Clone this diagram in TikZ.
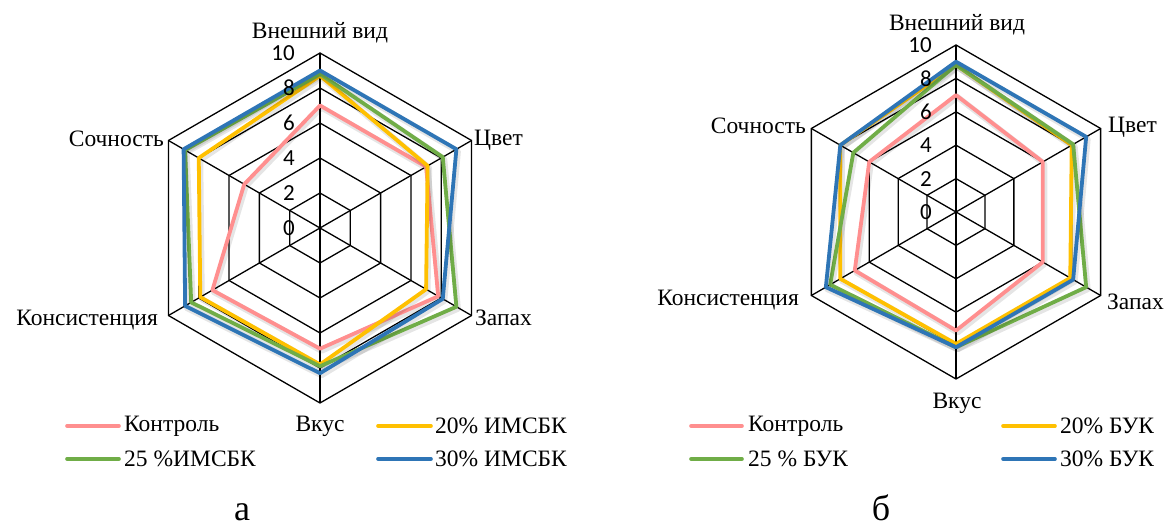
\documentclass[tikz,border=0pt]{standalone}
\usepackage{fontspec}
\setmainfont{Liberation Serif}
\newfontfamily\tickfont{Carlito}
\usepackage{xcolor}
\usetikzlibrary{positioning}
\definecolor{ControlPink}{HTML}{FF8F8F}
\definecolor{ImsbkYellow}{HTML}{FFC000}
\definecolor{ImsbkGreen}{HTML}{70AD47}
\definecolor{ImsbkBlue}{HTML}{2E75B6}

\tikzset{
  gridline/.style={black, line width=1.3pt, line join=miter},
  series/.style={draw=#1, line width=3.8pt, line join=round},
  seriesshadow/.style={draw=black, opacity=0.10, line width=6pt, line join=round},
  axislabel/.style={font=\fontsize{23.5}{26}\selectfont, inner sep=0pt},
  ticklabel/.style={font=\tickfont\fontsize{23}{26}\selectfont, inner sep=0pt, anchor=east},
  keyline/.style={draw=#1, line width=3.6pt, line cap=round},
  caption/.style={font=\fontsize{36}{40}\selectfont, inner sep=0pt, anchor=base},
}

% one radar series: colour, then six scores clockwise from the top
\newcommand{\radarseries}[7]{%
  \draw[seriesshadow, shift={(1.5,-2)}] (90:#2*\unitr) -- (30:#3*\unitr) -- (-30:#4*\unitr)
    -- (-90:#5*\unitr) -- (-150:#6*\unitr) -- (150:#7*\unitr) -- cycle;
  \draw[series=#1] (90:#2*\unitr) -- (30:#3*\unitr) -- (-30:#4*\unitr)
    -- (-90:#5*\unitr) -- (-150:#6*\unitr) -- (150:#7*\unitr) -- cycle;}

% hexagonal grid with spokes
\newcommand{\radargrid}{%
  \foreach \r in {2,4,...,10}
    \draw[gridline] (90:\r*\unitr) -- (30:\r*\unitr) -- (-30:\r*\unitr)
      -- (-90:\r*\unitr) -- (-150:\r*\unitr) -- (150:\r*\unitr) -- cycle;
  \foreach \a in {90,30,-30,-90,-150,150}
    \draw[gridline] (0,0) -- (\a:10*\unitr);}

\begin{document}
\begin{tikzpicture}[x=1pt,y=1pt]
    \useasboundingbox (0,0) rectangle (1167,527);

    % chart a
    \begin{scope}[shift={(320,299)}]
      \def\unitr{17.5}
      \radargrid
      \radarseries{ControlPink}{7}{7}{7.8}{6.9}{7.1}{5}
      \radarseries{ImsbkYellow}{8.7}{7.1}{7}{7.8}{7.9}{8}
      \radarseries{ImsbkGreen}{8.8}{8.1}{9}{7.9}{8.5}{8.9}
      \radarseries{ImsbkBlue}{9}{9}{8.1}{8.3}{8.9}{9}
      \foreach \r in {0,2,...,10}
        \node[ticklabel] (tickA\r) at (-25,\r*\unitr) {\r};
      \node[axislabel] (lookA) at (0,195) {Внешний вид};
      \node[axislabel, anchor=west] (colourA) at (154,88) {Цвет};
      \node[axislabel, anchor=west] (smellA) at (155,-90) {Запах};
      \node[axislabel] (tasteA) at (0,-198) {Вкус};
      \node[axislabel, anchor=east] (textureA) at (-162,-92) {Консистенция};
      \node[axislabel, anchor=east] (juiceA) at (-156,89) {Сочность};
    \end{scope}

    % legend a
    \node[axislabel, anchor=west] (keyA1) at (124,101) {Контроль};
    \node[axislabel, anchor=west] (keyA2) at (435,101) {20\% ИМСБК};
    \node[axislabel, anchor=west] (keyA3) at (124,68) {25 \%ИМСБК};
    \node[axislabel, anchor=west] (keyA4) at (435,68) {30\% ИМСБК};
    \draw[keyline=ControlPink] (67,101) -- (119,101);
    \draw[keyline=ImsbkYellow] (378,101) -- (431,101);
    \draw[keyline=ImsbkGreen] (67,68) -- (119,68);
    \draw[keyline=ImsbkBlue] (378,68) -- (431,68);
    \node[caption] (capA) at (242,6) {а};

    % chart b
    \begin{scope}[shift={(956,315)}]
      \def\unitr{16.7}
      \radargrid
      \radarseries{ControlPink}{7}{6}{6}{7.1}{7}{6}
      \radarseries{ImsbkYellow}{8.8}{8}{7.9}{7.9}{8}{8}
      \radarseries{ImsbkGreen}{8.8}{8.1}{9}{8.1}{8.7}{7.1}
      \radarseries{ImsbkBlue}{9}{9}{8.1}{8.1}{9}{8}
      \foreach \r in {0,2,...,10}
        \node[ticklabel] (tickB\r) at (-24,\r*\unitr) {\r};
      \node[axislabel] (lookB) at (1,187) {Внешний вид};
      \node[axislabel, anchor=west] (colourB) at (152,85) {Цвет};
      \node[axislabel, anchor=west] (smellB) at (151,-90) {Запах};
      \node[axislabel] (tasteB) at (1,-191) {Вкус};
      \node[axislabel, anchor=east] (textureB) at (-157,-88) {Консистенция};
      \node[axislabel, anchor=east] (juiceB) at (-150,86) {Сочность};
    \end{scope}

    % legend b
    \node[axislabel, anchor=west] (keyB1) at (748,101) {Контроль};
    \node[axislabel, anchor=west] (keyB2) at (1060,101) {20\% БУК};
    \node[axislabel, anchor=west] (keyB3) at (748,68) {25 \% БУК};
    \node[axislabel, anchor=west] (keyB4) at (1060,68) {30\% БУК};
    \draw[keyline=ControlPink] (691,101) -- (742,101);
    \draw[keyline=ImsbkYellow] (1003,101) -- (1055,101);
    \draw[keyline=ImsbkGreen] (691,68) -- (742,68);
    \draw[keyline=ImsbkBlue] (1003,68) -- (1055,68);
    \node[caption] (capB) at (881,6) {б};
\end{tikzpicture}
\end{document}
